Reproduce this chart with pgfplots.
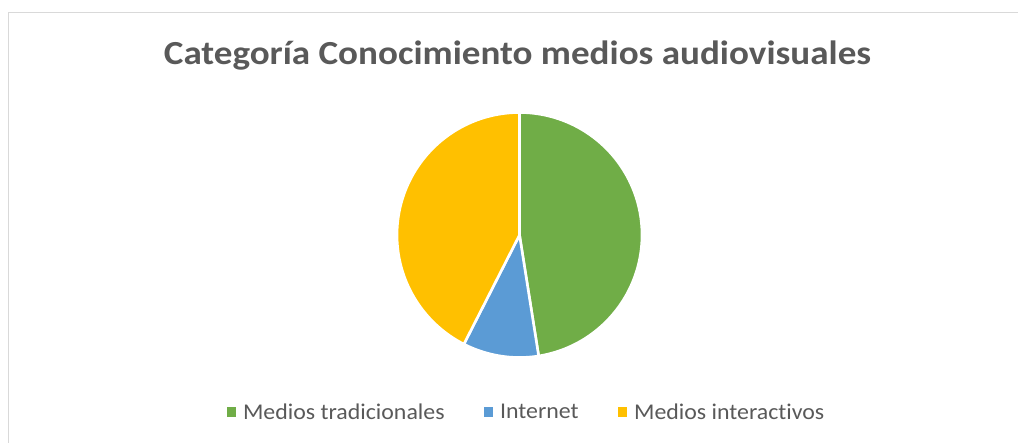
\documentclass[border=0pt]{standalone}
\usepackage{pgfplots}
\usepackage{pgfplotstable}
\pgfplotsset{compat=1.18}
\usepackage{fontspec}
\setmainfont{Carlito}[Ligatures=NoCommon]
\newfontfamily\titlefont{Carlito}[Ligatures=NoCommon, FakeStretch=1.1]
\newfontfamily\legfont{Carlito}[Ligatures=NoCommon, FakeStretch=1.06]
\definecolor{cGreen}{HTML}{70AD47}
\definecolor{cBlue}{HTML}{5B9BD5}
\definecolor{cYellow}{HTML}{FFC000}
\definecolor{cText}{HTML}{595959}
\definecolor{cBorder}{HTML}{D9D9D9}
\pgfplotstableread{
cat value
A 19
B 4
C 17
}\piedata
\pgfplotstablegetelem{0}{value}\of\piedata \let\vA\pgfplotsretval
\pgfplotstablegetelem{1}{value}\of\piedata \let\vB\pgfplotsretval
\pgfplotstablegetelem{2}{value}\of\piedata \let\vC\pgfplotsretval
\pgfmathsetmacro\tot{\vA+\vB+\vC}
\pgfmathsetmacro\aA{90}
\pgfmathsetmacro\aB{\aA-360*\vA/\tot}
\pgfmathsetmacro\aC{\aB-360*\vB/\tot}
\pgfmathsetmacro\aD{\aC-360*\vC/\tot}
\def\cx{519.5}
\def\cy{208}
\def\R{122.5}
\begin{document}
\begin{tikzpicture}[x=1pt,y=1pt]
\path[use as bounding box] (0,0) rectangle (1018,443);
\clip (0,0) rectangle (1018,443);
\draw[cBorder, line width=1.6pt] (8.3,-20) rectangle (1040,430.5);
\begin{axis}[
  at={(0,0)}, anchor=south west,
  width=1018pt, height=443pt, scale only axis,
  xmin=0, xmax=1018, ymin=0, ymax=443,
  axis lines=none, clip=false,
  title={\titlefont\bfseries Categoría Conocimiento medios audiovisuales},
  title style={at={(0.5083,0.8404)}, anchor=base, font=\fontsize{33.7}{38}\selectfont, text=cText},
  legend columns=3,
  legend style={draw=none, fill=none, at={(0.5196,0.070)}, anchor=center,
    font=\legfont\fontsize{22.5}{26}\selectfont, text=cText,
    /tikz/every even column/.append style={column sep=32pt},
    nodes={inner xsep=7pt}},
  legend image code/.code={\fill[#1, draw=none] (0pt,-5pt) rectangle (9.5pt,4.5pt);},
]
\addplot[fill=cGreen, draw=white, line width=2.6pt, line join=round, domain=\aB:\aA, samples=120, variable=\t]
  ({\cx+\R*cos(\t)},{\cy+\R*sin(\t)}) -- (axis cs:\cx,\cy) -- cycle;
\addlegendentry{Medios tradicionales}
\addplot[fill=cBlue, draw=white, line width=2.6pt, line join=round, domain=\aC:\aB, samples=40, variable=\t]
  ({\cx+\R*cos(\t)},{\cy+\R*sin(\t)}) -- (axis cs:\cx,\cy) -- cycle;
\addlegendentry{Internet}
\addplot[fill=cYellow, draw=white, line width=2.6pt, line join=round, domain=\aD:\aC, samples=120, variable=\t]
  ({\cx+\R*cos(\t)},{\cy+\R*sin(\t)}) -- (axis cs:\cx,\cy) -- cycle;
\addlegendentry{Medios interactivos}
\end{axis}
\end{tikzpicture}
\end{document}
